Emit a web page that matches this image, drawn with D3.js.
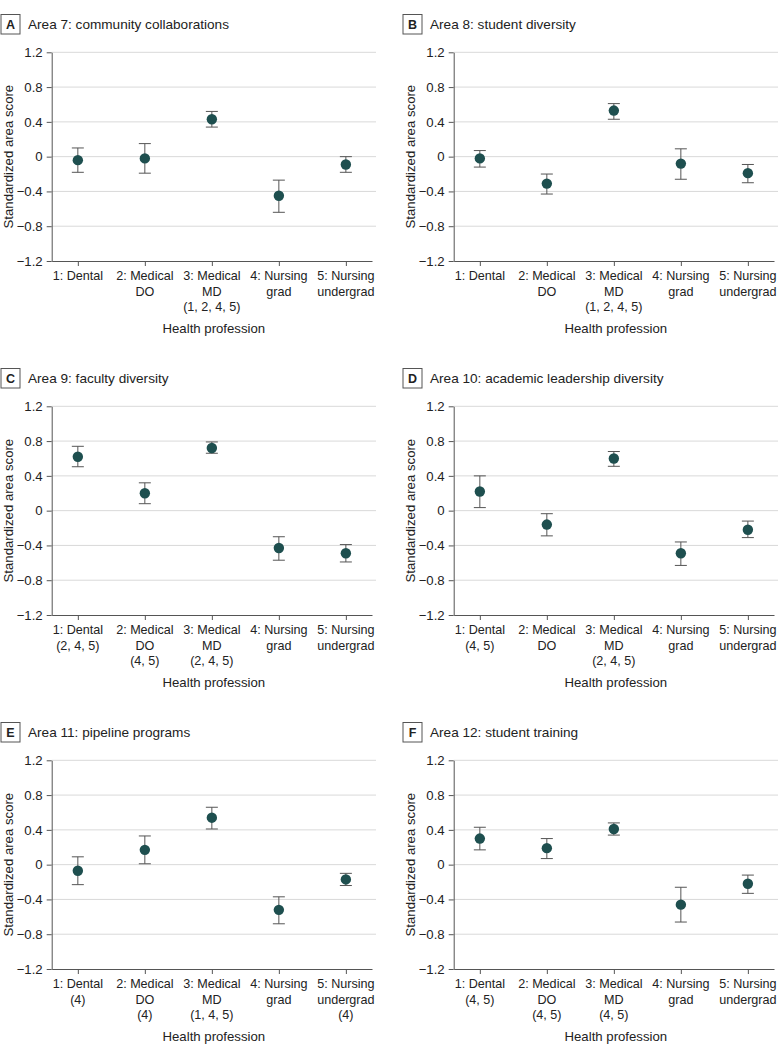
<!DOCTYPE html>
<html>
<head>
<meta charset="utf-8">
<script src="https://cdn.jsdelivr.net/npm/d3@7"></script>
<style>
  body { margin: 0; background: #fff; }
  svg { display: block; font-family: "Liberation Sans", Arial, sans-serif; }
</style>
</head>
<body>
<svg id="chart" width="783" height="1056"></svg>
<script>
// --- data ---
const professions = ["1", "2", "3", "4", "5"];
const panelLetters = ["A", "B", "C", "D", "E", "F"];
const panelTitles = [
    "Area 7: community collaborations",
    "Area 8: student diversity",
    "Area 9: faculty diversity",
    "Area 10: academic leadership diversity",
    "Area 11: pipeline programs",
    "Area 12: student training"
];
const yTicks = [-1.2, -0.8, -0.4, 0, 0.4, 0.8, 1.2];

// tick labels, lines split with "|"
const tickLabelsA = ["1: Dental", "2: Medical|DO", "3: Medical|MD|(1, 2, 4, 5)", "4: Nursing|grad", "5: Nursing|undergrad"];
const tickLabelsB = ["1: Dental", "2: Medical|DO", "3: Medical|MD|(1, 2, 4, 5)", "4: Nursing|grad", "5: Nursing|undergrad"];
const tickLabelsC = ["1: Dental|(2, 4, 5)", "2: Medical|DO|(4, 5)", "3: Medical|MD|(2, 4, 5)", "4: Nursing|grad", "5: Nursing|undergrad"];
const tickLabelsD = ["1: Dental|(4, 5)", "2: Medical|DO", "3: Medical|MD|(2, 4, 5)", "4: Nursing|grad", "5: Nursing|undergrad"];
const tickLabelsE = ["1: Dental|(4)", "2: Medical|DO|(4)", "3: Medical|MD|(1, 4, 5)", "4: Nursing|grad", "5: Nursing|undergrad|(4)"];
const tickLabelsF = ["1: Dental|(4, 5)", "2: Medical|DO|(4, 5)", "3: Medical|MD|(4, 5)", "4: Nursing|grad", "5: Nursing|undergrad"];

// point estimates and 95% CI per profession
const estA = [-0.04, -0.02, 0.43, -0.45, -0.09];
const lowA = [-0.18, -0.19, 0.34, -0.64, -0.18];
const highA = [0.10, 0.15, 0.52, -0.27, 0.00];

const estB = [-0.02, -0.31, 0.53, -0.08, -0.19];
const lowB = [-0.12, -0.43, 0.43, -0.26, -0.30];
const highB = [0.07, -0.20, 0.61, 0.09, -0.09];

const estC = [0.62, 0.20, 0.72, -0.43, -0.49];
const lowC = [0.505, 0.08, 0.66, -0.57, -0.59];
const highC = [0.74, 0.32, 0.79, -0.30, -0.39];

const estD = [0.22, -0.16, 0.60, -0.49, -0.22];
const lowD = [0.035, -0.29, 0.51, -0.63, -0.31];
const highD = [0.40, -0.035, 0.68, -0.36, -0.12];

const estE = [-0.07, 0.17, 0.54, -0.52, -0.17];
const lowE = [-0.23, 0.01, 0.41, -0.68, -0.24];
const highE = [0.09, 0.33, 0.66, -0.37, -0.10];

const estF = [0.30, 0.19, 0.41, -0.46, -0.22];
const lowF = [0.17, 0.07, 0.34, -0.66, -0.33];
const highF = [0.43, 0.30, 0.48, -0.26, -0.12];

const panels = [
    { ticks: tickLabelsA, est: estA, low: lowA, high: highA },
    { ticks: tickLabelsB, est: estB, low: lowB, high: highB },
    { ticks: tickLabelsC, est: estC, low: lowC, high: highC },
    { ticks: tickLabelsD, est: estD, low: lowD, high: highD },
    { ticks: tickLabelsE, est: estE, low: lowE, high: highE },
    { ticks: tickLabelsF, est: estF, low: lowF, high: highF }
];

// --- layout ---
const svg = d3.select("#chart");
const colX = [0, 402];
const rowY = [14, 368, 722];
const plotLeft = 51.7, plotRight = 376, plotTop = 38.3, plotBottom = 247;

const dotColor = "#1e4f4f";
const barColor = "#555";
const axisColor = "#555";
const gridColor = "#d9d9d9";

const x = d3.scalePoint().domain(professions).range([plotLeft, plotRight - 4]).padding(0.39);
const y = d3.scaleLinear().domain([-1.2, 1.2]).range([plotBottom, plotTop]);

panels.forEach((p, i) => {
    const g = svg.append("g")
        .attr("transform", `translate(${colX[i % 2]},${rowY[Math.floor(i / 2)]})`);

    // panel letter box + title
    g.append("rect")
        .attr("x", 1).attr("y", 0.5)
        .attr("width", 19).attr("height", 19.5)
        .attr("fill", "#fff")
        .attr("stroke", "#555")
        .attr("stroke-width", 1);
    g.append("text")
        .attr("x", 10.5).attr("y", 15)
        .attr("text-anchor", "middle")
        .attr("font-weight", "bold")
        .attr("font-size", "12.5px")
        .attr("fill", "#222")
        .text(panelLetters[i]);
    g.append("text")
        .attr("x", 28).attr("y", 15)
        .attr("font-size", "13.6px")
        .attr("fill", "#222")
        .text(panelTitles[i]);

    // gridlines
    g.append("g")
        .selectAll("line")
        .data(yTicks.filter(t => t !== -1.2))
        .join("line")
        .attr("x1", plotLeft).attr("x2", plotRight)
        .attr("y1", d => y(d)).attr("y2", d => y(d))
        .attr("stroke", gridColor)
        .attr("stroke-width", 1);

    // y axis
    const yAxis = g.append("g")
        .attr("transform", `translate(${plotLeft},0)`)
        .call(d3.axisLeft(y).tickValues(yTicks).tickSize(5).tickSizeOuter(0)
            .tickFormat(d => d === 0 ? "0" : d3.format(".1f")(d)));
    yAxis.select(".domain").attr("stroke", axisColor);
    yAxis.selectAll(".tick line").attr("stroke", axisColor);
    yAxis.selectAll("text")
        .attr("font-size", "13.2px")
        .attr("font-family", "inherit")
        .attr("fill", "#222")
        .attr("dx", "-1");

    // x axis
    const xAxis = g.append("g")
        .attr("transform", `translate(0,${plotBottom})`)
        .call(d3.axisBottom(x).tickSize(5).tickSizeOuter(0).tickFormat(""));
    xAxis.select(".domain").attr("stroke", axisColor);
    xAxis.selectAll(".tick line").attr("stroke", axisColor);

    // multi-line tick labels
    const labels = g.append("g")
        .selectAll("text")
        .data(professions)
        .join("text")
        .attr("x", d => x(d))
        .attr("y", plotBottom + 19)
        .attr("text-anchor", "middle")
        .attr("font-size", "12.6px")
        .attr("fill", "#222");
    labels.each(function (d, j) {
        const lines = p.ticks[j].split("|");
        d3.select(this).selectAll("tspan")
            .data(lines)
            .join("tspan")
            .attr("x", x(d))
            .attr("dy", (l, k) => k === 0 ? 0 : 15.5)
            .text(l => l);
    });

    // axis titles
    g.append("text")
        .attr("x", (plotLeft + plotRight) / 2)
        .attr("y", plotBottom + 72)
        .attr("text-anchor", "middle")
        .attr("font-size", "13.2px")
        .attr("fill", "#222")
        .text("Health profession");
    g.append("text")
        .attr("transform", `translate(13,${y(0)}) rotate(-90)`)
        .attr("text-anchor", "middle")
        .attr("font-size", "13.2px")
        .attr("fill", "#222")
        .text("Standardized area score");

    // error bars
    const bars = g.append("g")
        .selectAll("g")
        .data(professions)
        .join("g")
        .attr("stroke", barColor)
        .attr("stroke-width", 1);
    bars.append("line")
        .attr("x1", d => x(d)).attr("x2", d => x(d))
        .attr("y1", (d, j) => y(p.low[j])).attr("y2", (d, j) => y(p.high[j]));
    bars.append("line")
        .attr("x1", d => x(d) - 6).attr("x2", d => x(d) + 6)
        .attr("y1", (d, j) => y(p.low[j])).attr("y2", (d, j) => y(p.low[j]));
    bars.append("line")
        .attr("x1", d => x(d) - 6).attr("x2", d => x(d) + 6)
        .attr("y1", (d, j) => y(p.high[j])).attr("y2", (d, j) => y(p.high[j]));

    // points
    g.append("g")
        .selectAll("circle")
        .data(professions)
        .join("circle")
        .attr("cx", d => x(d))
        .attr("cy", (d, j) => y(p.est[j]))
        .attr("r", 5.2)
        .attr("fill", dotColor);
});
</script>
</body>
</html>
